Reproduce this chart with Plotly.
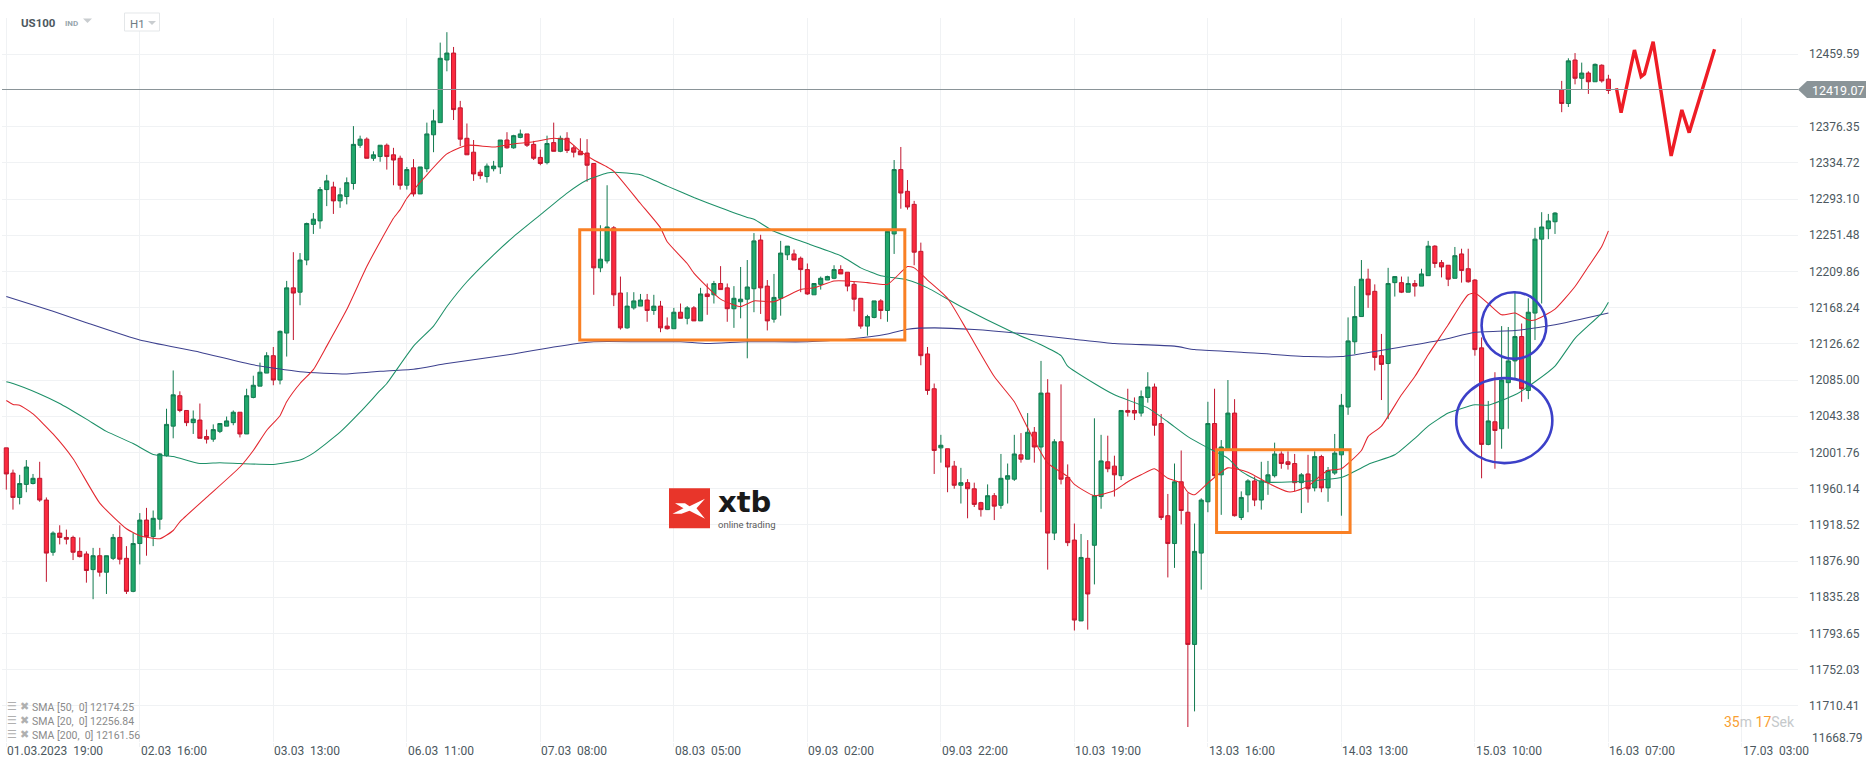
import plotly.graph_objects as go

##############################################################
# hourly candles (index = candle number)
opens = [
    12007, 11978, 11950, 11965, 11966, 11972, 11947, 11887, 11909, 11904,
    11904, 11888, 11885, 11867, 11883, 11864, 11880, 11904, 11880, 11842,
    11897, 11924, 11905, 11925, 11998, 12032, 12067, 12050, 12036, 12039,
    12020, 12017, 12026, 12032, 12036, 12048, 12023, 12065, 12078, 12093,
    12113, 12085, 12139, 12191, 12186, 12223, 12264, 12268, 12304, 12307,
    12291, 12296, 12311, 12355, 12362, 12340, 12342, 12355, 12344, 12340,
    12309, 12329, 12299, 12328, 12367, 12381, 12453, 12461, 12398, 12363,
    12347, 12324, 12319, 12328, 12330, 12361, 12352, 12364, 12368, 12356,
    12341, 12335, 12358, 12348, 12363, 12352, 12348, 12346, 12334, 12214,
    12222, 12260, 12185, 12145, 12168, 12170, 12177, 12165, 12170, 12147,
    12144, 12163, 12156, 12168, 12153, 12184, 12183, 12196, 12191, 12167,
    12175, 12178, 12190, 12246, 12193, 12155, 12179, 12229, 12230, 12225,
    12212, 12183, 12195, 12200, 12202, 12212, 12209, 12195, 12179, 12147,
    12157, 12176, 12165, 12253, 12327, 12302, 12287, 12233, 12115, 12075,
    12007, 12006, 11986, 11964, 11967, 11960, 11944, 11936, 11952, 11941,
    11971, 11971, 11999, 11994, 12025, 12008, 12070, 11909, 12014, 11973,
    11901, 11808, 11880, 11895, 11951, 11991, 11986, 11975, 12050, 12050,
    12047, 12065, 12077, 12035, 11929, 11897, 11968, 11933, 11781, 11886,
    11945, 12035, 11976, 12005, 12047, 11927, 11953, 11969, 11947, 11967,
    11975, 12000, 11991, 11989, 11967, 11977, 11961, 11997, 11961, 11978,
    11999, 12054, 12129, 12158, 12201, 12187, 12113, 12104, 12197, 12197,
    12186, 12196, 12193, 12205, 12239, 12220, 12217, 12202, 12230, 12213,
    12200, 12122, 12011, 12037, 12029, 12082, 12107, 12135, 12073, 12162,
    12247, 12259, 12267, 12419, 12403, 12453, 12432, 12438, 12428, 12447,
    12431,
]
closes = [
    11977, 11950, 11966, 11985, 11972, 11947, 11886, 11909, 11904, 11902,
    11887, 11882, 11866, 11883, 11864, 11883, 11904, 11879, 11842, 11897,
    11924, 11905, 11926, 12000, 12034, 12068, 12050, 12036, 12040, 12018,
    12017, 12028, 12035, 12038, 12048, 12023, 12067, 12079, 12094, 12113,
    12085, 12141, 12191, 12185, 12223, 12265, 12270, 12304, 12314, 12291,
    12298, 12312, 12356, 12362, 12340, 12344, 12355, 12342, 12338, 12309,
    12327, 12299, 12330, 12368, 12383, 12455, 12461, 12396, 12362, 12344,
    12322, 12320, 12331, 12331, 12361, 12352, 12366, 12368, 12355, 12340,
    12334, 12357, 12348, 12363, 12349, 12347, 12344, 12332, 12214, 12224,
    12261, 12183, 12145, 12170, 12176, 12177, 12165, 12170, 12145, 12144,
    12163, 12156, 12168, 12153, 12184, 12181, 12196, 12189, 12167, 12179,
    12178, 12192, 12245, 12191, 12153, 12180, 12231, 12239, 12223, 12212,
    12184, 12196, 12202, 12204, 12212, 12207, 12193, 12178, 12147, 12158,
    12176, 12165, 12256, 12327, 12300, 12284, 12232, 12113, 12073, 12004,
    12010, 11985, 11964, 11967, 11960, 11942, 11936, 11952, 11940, 11972,
    11975, 12000, 11994, 12025, 12008, 12070, 11909, 12014, 11971, 11898,
    11809, 11881, 11839, 11952, 11992, 11983, 11976, 12050, 12048, 12047,
    12066, 12077, 12033, 11927, 11897, 11968, 11935, 11781, 11888, 11947,
    12035, 11975, 12008, 12047, 11929, 11950, 11969, 11947, 11969, 11976,
    12000, 11989, 11988, 11967, 11976, 11960, 11997, 11961, 11981, 12001,
    12056, 12130, 12158, 12201, 12183, 12111, 12103, 12196, 12204, 12186,
    12196, 12193, 12207, 12239, 12219, 12215, 12201, 12228, 12211, 12198,
    12120, 12011, 12038, 12027, 12085, 12107, 12135, 12075, 12163, 12247,
    12261, 12268, 12277, 12403, 12452, 12432, 12438, 12428, 12448, 12429,
    12418,
]
highs = [
    12007, 11982, 11976, 11993, 11977, 11991, 11950, 11911, 11918, 11913,
    11906, 11904, 11888, 11892, 11892, 11883, 11908, 11918, 11894, 11909,
    11932, 11938, 11935, 12001, 12052, 12096, 12072, 12050, 12050, 12058,
    12028, 12034, 12035, 12043, 12050, 12048, 12075, 12090, 12105, 12117,
    12123, 12142, 12199, 12232, 12231, 12266, 12277, 12307, 12321, 12313,
    12306, 12318, 12377, 12366, 12364, 12348, 12355, 12357, 12352, 12343,
    12330, 12339, 12330, 12381, 12396, 12473, 12485, 12468, 12406, 12380,
    12361, 12327, 12334, 12337, 12361, 12370, 12367, 12373, 12368, 12360,
    12350, 12366, 12381, 12366, 12370, 12355, 12363, 12362, 12334, 12263,
    12309, 12262, 12204, 12186, 12186, 12184, 12184, 12183, 12176, 12157,
    12168, 12173, 12170, 12170, 12191, 12196, 12199, 12216, 12196, 12193,
    12215, 12223, 12254, 12252, 12200, 12207, 12245, 12239, 12235, 12227,
    12219, 12196, 12204, 12205, 12217, 12217, 12209, 12198, 12179, 12160,
    12176, 12178, 12258, 12338, 12353, 12315, 12291, 12243, 12123, 12081,
    12022, 12006, 11992, 11984, 11971, 11967, 11945, 11965, 11955, 12000,
    11989, 12022, 12024, 12047, 12031, 12107, 12086, 12017, 12080, 11988,
    11920, 11908, 11901, 12041, 12022, 12021, 11998, 12050, 12075, 12065,
    12073, 12094, 12081, 12046, 11954, 11989, 12004, 11955, 11920, 11949,
    12060, 12075, 12016, 12085, 12063, 11957, 11971, 11974, 11991, 11992,
    12013, 12003, 12003, 12000, 11978, 11999, 12003, 11999, 11985, 12023,
    12069, 12157, 12193, 12223, 12213, 12195, 12138, 12214, 12204, 12204,
    12204, 12200, 12213, 12245, 12240, 12223, 12217, 12238, 12236, 12236,
    12201, 12134, 12061, 12094, 12147, 12146, 12187, 12150, 12179, 12260,
    12278, 12276, 12278, 12429, 12455, 12461, 12450, 12440, 12449, 12448,
    12436,
]
lows = [
    11959, 11936, 11942, 11956, 11965, 11945, 11853, 11883, 11896, 11896,
    11878, 11881, 11852, 11833, 11859, 11839, 11878, 11873, 11839, 11841,
    11873, 11883, 11894, 11913, 11997, 12018, 12048, 12032, 12023, 12018,
    12012, 12014, 12024, 12032, 12033, 12019, 12023, 12064, 12078, 12093,
    12079, 12080, 12112, 12131, 12171, 12217, 12253, 12259, 12285, 12276,
    12283, 12287, 12304, 12352, 12340, 12337, 12336, 12327, 12309, 12304,
    12304, 12296, 12299, 12324, 12347, 12381, 12440, 12384, 12354, 12344,
    12314, 12316, 12312, 12325, 12322, 12351, 12351, 12363, 12353, 12338,
    12332, 12333, 12348, 12347, 12346, 12341, 12344, 12313, 12183, 12209,
    12219, 12170, 12143, 12144, 12166, 12170, 12152, 12160, 12140, 12143,
    12144, 12156, 12149, 12153, 12153, 12160, 12173, 12189, 12152, 12145,
    12156, 12110, 12163, 12161, 12142, 12151, 12159, 12223, 12223, 12186,
    12183, 12183, 12189, 12200, 12201, 12207, 12187, 12164, 12144, 12136,
    12156, 12155, 12152, 12230, 12282, 12281, 12217, 12102, 12068, 11977,
    11990, 11956, 11960, 11943, 11926, 11939, 11928, 11936, 11924, 11937,
    11943, 11969, 11990, 11994, 11990, 11933, 11867, 11901, 11965, 11894,
    11797, 11808, 11798, 11850, 11937, 11979, 11951, 11970, 12043, 12039,
    12043, 12059, 12021, 11924, 11858, 11869, 11919, 11686, 11704, 11844,
    11933, 11974, 11930, 12005, 11928, 11924, 11933, 11940, 11936, 11953,
    11973, 11983, 11982, 11957, 11932, 11944, 11957, 11956, 11945, 11976,
    11929, 12045, 12115, 12158, 12168, 12096, 12062, 12040, 12181, 12185,
    12186, 12181, 12193, 12205, 12214, 12203, 12193, 12202, 12197, 12197,
    12113, 11972, 12010, 11983, 12006, 12029, 12085, 12060, 12063, 12131,
    12173, 12247, 12253, 12393, 12399, 12425, 12419, 12414, 12428, 12427,
    12414,
]
candle_x = list(range(len(closes)))

##############################################################
# moving averages, read at the candles listed in the *_x lists
sma20_x = [0, 1, 2, 4, 7, 10, 14, 18, 20, 23, 25, 26, 30, 35, 37, 39, 41, 42, 44, 46, 48, 51, 54, 56, 58, 59, 60, 63, 66, 69,
           73, 76, 79, 82, 84, 86, 88, 90, 91, 95, 98, 99, 102, 103, 107, 110, 112, 115, 119, 121, 124, 126, 129, 132, 135, 136, 138, 141, 144, 148,
           151, 153, 156, 159, 160, 163, 166, 168, 170, 172, 174, 176, 177, 178, 180, 183, 186, 189, 192, 193, 195, 197, 198, 200, 203, 204, 206, 209, 211, 213,
           215, 216, 218, 219, 220, 222, 224, 226, 228, 229, 232, 235, 237, 239, 240]
sma20 = [12061.5, 12057, 12056, 12046, 12023, 11994.5, 11943.5, 11914, 11906, 11902.5, 11912, 11922, 11950, 11985, 12004, 12027, 12044, 12060, 12081, 12097, 12124, 12166, 12215.5, 12244, 12271, 12281, 12294, 12321, 12345, 12355,
         12353, 12356.5, 12359, 12363, 12361, 12348, 12338, 12330, 12325, 12288, 12260, 12244, 12219, 12208, 12178, 12169.5, 12176, 12175, 12189, 12191, 12199, 12199, 12197, 12195, 12215.5, 12214, 12200, 12179, 12141, 12089,
         12060, 12030, 11989.5, 11974, 11965, 11952, 11958, 11968, 11976, 11983, 11972, 11966.5, 11956, 11953, 11966.5, 11984, 11979, 11966.5, 11956.5, 11957, 11963, 11976, 11981, 11983, 12004, 12020, 12032, 12068, 12089, 12114,
         12137, 12148.5, 12173, 12183, 12185, 12173, 12160, 12162, 12154, 12154, 12166.5, 12192.5, 12215.5, 12238.5, 12256.5]

sma50_x = [0, 1, 5, 8, 12, 15, 19, 22, 25, 29, 32, 35, 40, 44, 46, 50, 53, 56, 57, 61, 64, 66, 69, 73, 76, 80, 84, 87, 90, 91,
           95, 99, 103, 107, 111, 112, 115, 120, 125, 128, 131, 135, 138, 143, 151, 155, 158, 159, 163, 166, 171, 174, 177, 180, 183, 185, 188, 193, 198, 200,
           201, 204, 208, 211, 213, 216, 220, 222, 226, 229, 232, 235, 239, 240]
sma50 = [12083, 12081, 12069, 12058, 12040, 12026, 12012, 11999.5, 11997, 11989, 11990, 11989, 11988, 11993, 12001, 12025, 12048, 12073, 12081, 12124, 12147, 12169.5, 12198, 12229, 12250, 12275, 12300, 12315, 12323, 12324,
         12321, 12308, 12295, 12283, 12272, 12270, 12256, 12242, 12228, 12214, 12205, 12200, 12191, 12169.5, 12139, 12125.5, 12113, 12101, 12081, 12068, 12053, 12037, 12020, 12007, 11995, 11980, 11968, 11968, 11971, 11973,
         11976, 11988, 11999, 12018, 12032, 12047, 12056.5, 12056, 12068, 12083, 12101, 12133, 12162, 12174.5]

sma200_x = [0, 7, 12, 20, 29, 37, 44, 51, 56, 61, 66, 76, 82, 88, 95, 101, 105, 111, 120, 126, 132, 135, 139, 145, 154, 160, 166, 175, 178, 185,
            195, 200, 207, 215, 220, 226, 232, 240]
sma200 = [12181, 12164, 12151, 12131, 12117, 12102.5, 12094.5, 12092, 12095, 12097.5, 12104, 12115, 12123, 12129, 12129, 12129, 12127, 12129, 12129, 12132, 12138, 12143.5, 12145, 12143, 12137, 12132, 12127, 12124, 12120, 12117,
          12112, 12112, 12120.5, 12131, 12140, 12142, 12148.5, 12162]

# hand drawn forecast line
forecast_x = [241.2, 241.9, 243.9, 244.9, 245.4, 246.7, 249.4, 251.0, 252.1, 255.9]
forecast_y = [12420.5, 12392.5, 12464.5, 12433.9, 12437, 12474, 12342.7, 12395.6, 12369.5, 12465.3]

# hand drawn boxes and circles [x0, x1, y0, y1]
orange_boxes = [[85.9, 134.6, 12130.9, 12257.7], [181.3, 201.3, 11909.8, 12004.8]]
blue_circles = [[221.0, 230.7, 12109.4, 12186], [217.2, 231.6, 11989.5, 12087.2]]

##############################################################
# axis labels
tick_idx = list(range(0, 261, 20))
tick_labels = ["01.03.2023  19:00", "02.03  16:00", "03.03  13:00", "06.03  11:00", "07.03  08:00", "08.03  05:00", "09.03  02:00",
               "09.03  22:00", "10.03  19:00", "13.03  16:00", "14.03  13:00", "15.03  10:00", "16.03  07:00", "17.03  03:00"]
price_ticks = [12459.59, 12376.35, 12334.72, 12293.10, 12251.48, 12209.86, 12168.24, 12126.62, 12085.00, 12043.38,
               12001.76, 11960.14, 11918.52, 11876.90, 11835.28, 11793.65, 11752.03, 11710.41, 11668.79]
last_price = 12419.07
sma_labels = ["SMA [50,  0] 12174.25", "SMA [20,  0] 12256.84", "SMA [200,  0] 12161.56"]

W, H = 1866, 767
PLOT_L, PLOT_R, PLOT_T, PLOT_B = 2, 1798, 18, 741.7
TEXT = "#4c5860"
GRID = "#f0f2f4"


# paper coordinates from window pixels, only for the chrome around the chart
def px(x):
    return (x - PLOT_L) / (PLOT_R - PLOT_L)


def py(y):
    return (PLOT_B - y) / (PLOT_B - PLOT_T)


def label(x, y, text, size=12, color=TEXT, anchor="left", family="Roboto", **kw):
    return dict(xref="paper", yref="paper", x=px(x), y=py(y), text=text, showarrow=False, xanchor=anchor, yanchor="middle",
                borderpad=0, font=dict(family=family, size=size, color=color), **kw)


def poly(points, fill, layer="above"):
    path = "M " + " L ".join("{} {}".format(px(a), py(b)) for a, b in points) + " Z"
    return dict(type="path", xref="paper", yref="paper", path=path, fillcolor=fill, line_width=0, layer=layer)


##############################################################
smooth = dict(shape="spline", smoothing=0.5, width=1.05)
data = [
    go.Candlestick(x=candle_x, open=opens, high=highs, low=lows, close=closes, whiskerwidth=0,
                   increasing=dict(line=dict(color="#127a50", width=1), fillcolor="#21a86c"),
                   decreasing=dict(line=dict(color="#c0172f", width=1), fillcolor="#fb2a3e"),
                   hoverinfo="skip"),
    go.Scatter(x=sma200_x, y=sma200, mode="lines", line=dict(color="#3d418f", **smooth), name="SMA 200"),
    go.Scatter(x=sma50_x, y=sma50, mode="lines", line=dict(color="#1d9068", **smooth), name="SMA 50"),
    go.Scatter(x=sma20_x, y=sma20, mode="lines", line=dict(color="#e3262e", **smooth), name="SMA 20"),
    go.Scatter(x=forecast_x, y=forecast_y, mode="lines", line=dict(color="#ee1c25", width=3.4), name="forecast"),
]

shapes = [
    # white patch behind the logo
    dict(type="rect", xref="paper", yref="paper", x0=px(655), x1=px(785), y0=py(535), y1=py(481),
         fillcolor="white", line_width=0, layer="between"),
    dict(type="rect", xref="paper", yref="paper", x0=px(669), x1=px(710), y0=py(528), y1=py(488),
         fillcolor="#e8352a", line_width=0),
    poly([(675, 503), (685, 503), (689.5, 506), (705, 498.5), (696.5, 508), (705, 518.5), (689.5, 510.5),
          (681.5, 513.5), (672.5, 513.5), (683.5, 508)], "white"),
    # current price line and its tag
    dict(type="line", xref="paper", yref="y", x0=0, x1=1, y0=last_price, y1=last_price, line=dict(color="#8a9498", width=1)),
    poly([(1798, 89.5), (1807, 81), (1866, 81), (1866, 98), (1807, 98)], "#8a9498"),
    # the little H1 box
    dict(type="rect", xref="paper", yref="paper", x0=px(124.5), x1=px(159.5), y0=py(31), y1=py(13),
         fillcolor="white", line=dict(color="#e4e7e9", width=1)),
    poly([(83, 18.5), (92, 18.5), (87.5, 23)], "#c9cdd0"),
    poly([(148, 21), (156, 21), (152, 25)], "#c9cdd0"),
]
for x0, x1, y0, y1 in orange_boxes:
    shapes.append(dict(type="rect", x0=x0, x1=x1, y0=y0, y1=y1, line=dict(color="#f98024", width=3)))
for x0, x1, y0, y1 in blue_circles:
    shapes.append(dict(type="circle", x0=x0, x1=x1, y0=y0, y1=y1, line=dict(color="#3c40c8", width=2.6)))

annotations = [
    label(20, 23, "<b>US100</b>", size=11.5),
    label(64, 23, "<b>IND</b>", size=8, color="#98a6ad"),
    label(129, 24, "H1", size=11.5, color="#6f7c83"),
    label(717, 501.5, "<b>xtb</b>", size=29, color="#1a1a1a", family="DejaVu Sans"),
    label(717, 524.5, "online trading", size=9.5, color="#5b5b5b"),
    label(1811, 90, last_price, size=12.5, color="white"),
    label(1811, 737.7, "11668.79"),
    label(1796, 722, "<span style='color:#f9a032'>35</span><span style='color:#c5c9cb'>m</span> "
                     "<span style='color:#f9a032'>17</span><span style='color:#c5c9cb'>Sek</span>", size=14, anchor="right"),
]
for i, text in zip(tick_idx, tick_labels):
    annotations.append(dict(xref="x", yref="paper", x=i, y=py(751), text=text, showarrow=False, xanchor="left", yanchor="middle",
                            borderpad=0, font=dict(family="Roboto", size=12, color=TEXT)))
for n, text in enumerate(sma_labels):
    y = 707.5 + 14 * n
    annotations.append(label(5.5, y - 1, "<b>☰</b>", size=11, color="#b0b0b0", family="DejaVu Sans"))
    annotations.append(label(19, y - 1, "✖", size=11, color="#b0b0b0", family="DejaVu Sans"))
    annotations.append(label(31, y, text, size=10.5, color="#8a8a8a"))

layout = dict(
    width=W, height=H, autosize=False,
    margin=dict(l=PLOT_L, r=W - PLOT_R, t=PLOT_T, b=H - PLOT_B, pad=0),
    paper_bgcolor="white", plot_bgcolor="white",
    showlegend=False, boxgap=0.12,
    xaxis=dict(type="linear", range=[-0.645, 268.4], rangeslider=dict(visible=False), tickvals=tick_idx, showticklabels=False,
               showgrid=True, gridcolor=GRID, gridwidth=1, zeroline=False, showline=False, ticks="outside", ticklen=4, tickcolor=GRID),
    yaxis=dict(side="right", range=[11668.79, 12501.3], tickvals=price_ticks,
               ticktext=["{:.2f}".format(v) for v in price_ticks[:-1]] + [""],
               showgrid=True, gridcolor=GRID, gridwidth=1, zeroline=False, showline=False, ticks="", ticklabelstandoff=10,
               tickfont=dict(family="Roboto", size=12, color=TEXT)),
    shapes=shapes, annotations=annotations,
)

fig = go.Figure(data=data, layout=layout)
fig.write_html("out.html", config=dict(displayModeBar=False),
               post_script="document.body.style.margin='0';document.body.style.overflow='hidden';")
